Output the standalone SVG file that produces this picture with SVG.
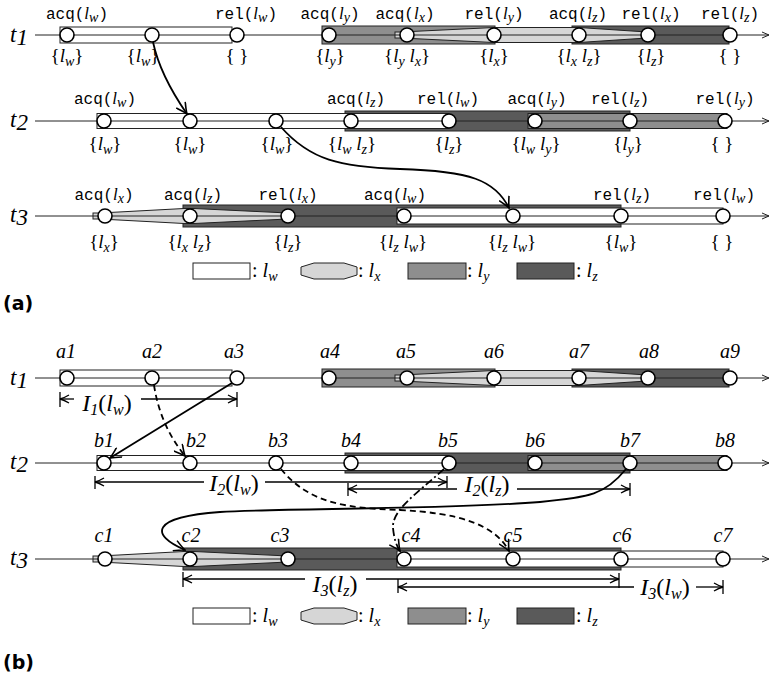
<svg xmlns="http://www.w3.org/2000/svg" width="771" height="682" viewBox="0 0 771 682">
<defs>
<style>
.tl{stroke:#222;stroke-width:1;fill:none}
.b{stroke:#222;stroke-width:1}
.w{fill:#fff}
.x{fill:#d6d6d6}
.y{fill:#8e8e8e}
.z{fill:#5a5a5a}
.c{fill:#fff;stroke:#000;stroke-width:1.6}
.m{font-family:"Liberation Mono",monospace;font-size:16px;font-style:normal}
.i{font-style:italic}
.op{text-anchor:middle;font-family:"Liberation Serif",serif;font-size:17px}
.st{text-anchor:middle;font-family:"Liberation Serif",serif;font-size:19px}
.s{font-size:14px;font-style:italic}
.nl{text-anchor:middle;font-family:"Liberation Serif",serif;font-style:italic;font-size:20px}
.tn{font-family:"Liberation Serif",serif;font-style:italic;font-size:23px}
.iv{text-anchor:middle;font-family:"Liberation Serif",serif;font-size:24px}
.ivs{font-size:16px;font-style:italic}
.cn{fill:none;stroke:#000;stroke-width:1.8}
.ds{stroke-dasharray:6 4}
.dd{stroke-dasharray:8 3 2 3}
.ia{fill:none;stroke:#000;stroke-width:1.3}
.hd{font-family:"DejaVu Sans",sans-serif;font-weight:bold;font-size:19px}
.lg{font-family:"Liberation Serif",serif;font-size:20px}
.lgs{font-size:14px;font-style:italic}
</style>
<marker id="ah" viewBox="-12 -6 13 12" refX="0" refY="0" markerWidth="13" markerHeight="12" markerUnits="userSpaceOnUse" orient="auto"><path d="M-11,-5.5 Q-4,-1.5 0,0 Q-4,1.5 -11,5.5" fill="none" stroke="#000" stroke-width="1.6"/></marker>
<marker id="ta" viewBox="-9 -5 10 10" refX="0" refY="0" markerWidth="10" markerHeight="10" markerUnits="userSpaceOnUse" orient="auto"><path d="M-7,-3 L0,0 L-7,3" fill="none" stroke="#222" stroke-width="1"/></marker>
<marker id="ia" viewBox="-11 -6 12 12" refX="0" refY="0" markerWidth="12" markerHeight="12" markerUnits="userSpaceOnUse" orient="auto-start-reverse"><path d="M-9,-4 Q-4,-1 0,0 Q-4,1 -9,4" fill="none" stroke="#000" stroke-width="1.3"/></marker>
</defs>
<rect width="771" height="682" fill="#fff"/>

<!-- ================= (a) ================= -->
<g id="a-lane1">
<rect class="b y" x="322" y="26" width="173" height="18"/>
<rect class="b z" x="572" y="26" width="157" height="18"/>
<rect class="b w" x="60" y="27" width="172" height="16"/>
<rect class="b x" x="395" y="32" width="7" height="6"/>
<polygon class="b x" points="401,32 494,27.5 579,27.5 647,32 647,38 579,42.5 494,42.5 401,38"/>
<line class="tl" x1="35" y1="35" x2="769" y2="35" marker-end="url(#ta)"/>
<text class="tn" x="10" y="42">t<tspan dy="3">1</tspan></text>
</g>
<g id="a-lane2">
<rect class="b z" x="345" y="111" width="285" height="20"/>
<rect class="b w" x="97" y="113.5" width="352" height="15"/>
<rect class="b y" x="528" y="113.5" width="199" height="15"/>
<line class="tl" x1="35" y1="121" x2="769" y2="121" marker-end="url(#ta)"/>
<text class="tn" x="10" y="127">t<tspan dy="3">2</tspan></text>
</g>
<g id="a-lane3">
<rect class="b z" x="183" y="205" width="438" height="22"/>
<rect class="b x" x="93" y="213" width="7" height="6"/>
<polygon class="b x" points="100,213 184,208.5 194,208.5 288,213 288,219 194,223.5 184,223.5 100,219"/>
<rect class="b w" x="397" y="208" width="326" height="16"/>
<line class="tl" x1="35" y1="216" x2="769" y2="216" marker-end="url(#ta)"/>
<text class="tn" x="10" y="222">t<tspan dy="3">3</tspan></text>
</g>

<g id="a-connectors">
<path class="cn" d="M153,42 Q160,75 187,114" marker-end="url(#ah)"/>
<path class="cn" d="M281,127 C310,160 340,167 400,169 C470,171 495,180 509,208" marker-end="url(#ah)"/>
</g>

<g id="a1n1"><circle class="c" cx="67" cy="35" r="7"/><text class="op" x="77" y="19"><tspan class="m">acq(</tspan><tspan class="i">l</tspan><tspan class="s" dy="3">w</tspan><tspan class="m" dy="-3">)</tspan></text><text class="st" x="67" y="62">{<tspan class="i">l</tspan><tspan class="s" dy="4">w</tspan><tspan dy="-4">}</tspan></text></g>
<g id="a1n2"><circle class="c" cx="152" cy="35" r="7"/><text class="st" x="143" y="62">{<tspan class="i">l</tspan><tspan class="s" dy="4">w</tspan><tspan dy="-4">}</tspan></text></g>
<g id="a1n3"><circle class="c" cx="237" cy="35" r="7"/><text class="op" x="246" y="19"><tspan class="m">rel(</tspan><tspan class="i">l</tspan><tspan class="s" dy="3">w</tspan><tspan class="m" dy="-3">)</tspan></text><text class="st" x="237" y="62">{ }</text></g>
<g id="a1n4"><circle class="c" cx="329" cy="35" r="7"/><text class="op" x="330" y="19"><tspan class="m">acq(</tspan><tspan class="i">l</tspan><tspan class="s" dy="3">y</tspan><tspan class="m" dy="-3">)</tspan></text><text class="st" x="330" y="62">{<tspan class="i">l</tspan><tspan class="s" dy="4">y</tspan><tspan dy="-4">}</tspan></text></g>
<g id="a1n5"><circle class="c" cx="407" cy="35" r="7"/><text class="op" x="405" y="19"><tspan class="m">acq(</tspan><tspan class="i">l</tspan><tspan class="s" dy="3">x</tspan><tspan class="m" dy="-3">)</tspan></text><text class="st" x="407" y="62">{<tspan class="i">l</tspan><tspan class="s" dy="4">y</tspan><tspan class="i" dy="-4"> l</tspan><tspan class="s" dy="4">x</tspan><tspan dy="-4">}</tspan></text></g>
<g id="a1n6"><circle class="c" cx="494" cy="35" r="7"/><text class="op" x="494" y="19"><tspan class="m">rel(</tspan><tspan class="i">l</tspan><tspan class="s" dy="3">y</tspan><tspan class="m" dy="-3">)</tspan></text><text class="st" x="494" y="62">{<tspan class="i">l</tspan><tspan class="s" dy="4">x</tspan><tspan dy="-4">}</tspan></text></g>
<g id="a1n7"><circle class="c" cx="579" cy="35" r="7"/><text class="op" x="578" y="19"><tspan class="m">acq(</tspan><tspan class="i">l</tspan><tspan class="s" dy="3">z</tspan><tspan class="m" dy="-3">)</tspan></text><text class="st" x="579" y="62">{<tspan class="i">l</tspan><tspan class="s" dy="4">x</tspan><tspan class="i" dy="-4"> l</tspan><tspan class="s" dy="4">z</tspan><tspan dy="-4">}</tspan></text></g>
<g id="a1n8"><circle class="c" cx="648" cy="35" r="7"/><text class="op" x="651" y="19"><tspan class="m">rel(</tspan><tspan class="i">l</tspan><tspan class="s" dy="3">x</tspan><tspan class="m" dy="-3">)</tspan></text><text class="st" x="651" y="62">{<tspan class="i">l</tspan><tspan class="s" dy="4">z</tspan><tspan dy="-4">}</tspan></text></g>
<g id="a1n9"><circle class="c" cx="730" cy="35" r="7"/><text class="op" x="730" y="19"><tspan class="m">rel(</tspan><tspan class="i">l</tspan><tspan class="s" dy="3">z</tspan><tspan class="m" dy="-3">)</tspan></text><text class="st" x="730" y="62">{ }</text></g>

<g id="a2n1"><circle class="c" cx="104" cy="121" r="7"/><text class="op" x="105" y="104"><tspan class="m">acq(</tspan><tspan class="i">l</tspan><tspan class="s" dy="3">w</tspan><tspan class="m" dy="-3">)</tspan></text><text class="st" x="105" y="150">{<tspan class="i">l</tspan><tspan class="s" dy="4">w</tspan><tspan dy="-4">}</tspan></text></g>
<g id="a2n2"><circle class="c" cx="190" cy="121" r="7"/><text class="st" x="190" y="150">{<tspan class="i">l</tspan><tspan class="s" dy="4">w</tspan><tspan dy="-4">}</tspan></text></g>
<g id="a2n3"><circle class="c" cx="276" cy="121" r="7"/><text class="st" x="277" y="150">{<tspan class="i">l</tspan><tspan class="s" dy="4">w</tspan><tspan dy="-4">}</tspan></text></g>
<g id="a2n4"><circle class="c" cx="351" cy="121" r="7"/><text class="op" x="356" y="104"><tspan class="m">acq(</tspan><tspan class="i">l</tspan><tspan class="s" dy="3">z</tspan><tspan class="m" dy="-3">)</tspan></text><text class="st" x="352" y="150">{<tspan class="i">l</tspan><tspan class="s" dy="4">w</tspan><tspan class="i" dy="-4"> l</tspan><tspan class="s" dy="4">z</tspan><tspan dy="-4">}</tspan></text></g>
<g id="a2n5"><circle class="c" cx="449" cy="121" r="7"/><text class="op" x="448" y="104"><tspan class="m">rel(</tspan><tspan class="i">l</tspan><tspan class="s" dy="3">w</tspan><tspan class="m" dy="-3">)</tspan></text><text class="st" x="449" y="150">{<tspan class="i">l</tspan><tspan class="s" dy="4">z</tspan><tspan dy="-4">}</tspan></text></g>
<g id="a2n6"><circle class="c" cx="535" cy="121" r="7"/><text class="op" x="537" y="104"><tspan class="m">acq(</tspan><tspan class="i">l</tspan><tspan class="s" dy="3">y</tspan><tspan class="m" dy="-3">)</tspan></text><text class="st" x="536" y="150">{<tspan class="i">l</tspan><tspan class="s" dy="4">w</tspan><tspan class="i" dy="-4"> l</tspan><tspan class="s" dy="4">y</tspan><tspan dy="-4">}</tspan></text></g>
<g id="a2n7"><circle class="c" cx="630" cy="121" r="7"/><text class="op" x="620" y="104"><tspan class="m">rel(</tspan><tspan class="i">l</tspan><tspan class="s" dy="3">z</tspan><tspan class="m" dy="-3">)</tspan></text><text class="st" x="628" y="150">{<tspan class="i">l</tspan><tspan class="s" dy="4">y</tspan><tspan dy="-4">}</tspan></text></g>
<g id="a2n8"><circle class="c" cx="725" cy="121" r="7"/><text class="op" x="725" y="104"><tspan class="m">rel(</tspan><tspan class="i">l</tspan><tspan class="s" dy="3">y</tspan><tspan class="m" dy="-3">)</tspan></text><text class="st" x="722" y="150">{ }</text></g>

<g id="a3n1"><circle class="c" cx="105" cy="216" r="7"/><text class="op" x="104" y="200"><tspan class="m">acq(</tspan><tspan class="i">l</tspan><tspan class="s" dy="3">x</tspan><tspan class="m" dy="-3">)</tspan></text><text class="st" x="104" y="248">{<tspan class="i">l</tspan><tspan class="s" dy="4">x</tspan><tspan dy="-4">}</tspan></text></g>
<g id="a3n2"><circle class="c" cx="190" cy="216" r="7"/><text class="op" x="193" y="200"><tspan class="m">acq(</tspan><tspan class="i">l</tspan><tspan class="s" dy="3">z</tspan><tspan class="m" dy="-3">)</tspan></text><text class="st" x="190" y="248">{<tspan class="i">l</tspan><tspan class="s" dy="4">x</tspan><tspan class="i" dy="-4"> l</tspan><tspan class="s" dy="4">z</tspan><tspan dy="-4">}</tspan></text></g>
<g id="a3n3"><circle class="c" cx="288" cy="216" r="7"/><text class="op" x="288" y="200"><tspan class="m">rel(</tspan><tspan class="i">l</tspan><tspan class="s" dy="3">x</tspan><tspan class="m" dy="-3">)</tspan></text><text class="st" x="288" y="248">{<tspan class="i">l</tspan><tspan class="s" dy="4">z</tspan><tspan dy="-4">}</tspan></text></g>
<g id="a3n4"><circle class="c" cx="404" cy="216" r="7"/><text class="op" x="395" y="200"><tspan class="m">acq(</tspan><tspan class="i">l</tspan><tspan class="s" dy="3">w</tspan><tspan class="m" dy="-3">)</tspan></text><text class="st" x="403" y="248">{<tspan class="i">l</tspan><tspan class="s" dy="4">z</tspan><tspan class="i" dy="-4"> l</tspan><tspan class="s" dy="4">w</tspan><tspan dy="-4">}</tspan></text></g>
<g id="a3n5"><circle class="c" cx="513" cy="216" r="7"/><text class="st" x="512" y="248">{<tspan class="i">l</tspan><tspan class="s" dy="4">z</tspan><tspan class="i" dy="-4"> l</tspan><tspan class="s" dy="4">w</tspan><tspan dy="-4">}</tspan></text></g>
<g id="a3n6"><circle class="c" cx="621" cy="216" r="7"/><text class="op" x="622" y="200"><tspan class="m">rel(</tspan><tspan class="i">l</tspan><tspan class="s" dy="3">z</tspan><tspan class="m" dy="-3">)</tspan></text><text class="st" x="621" y="248">{<tspan class="i">l</tspan><tspan class="s" dy="4">w</tspan><tspan dy="-4">}</tspan></text></g>
<g id="a3n7"><circle class="c" cx="723" cy="216" r="7"/><text class="op" x="724" y="200"><tspan class="m">rel(</tspan><tspan class="i">l</tspan><tspan class="s" dy="3">w</tspan><tspan class="m" dy="-3">)</tspan></text><text class="st" x="722" y="248">{ }</text></g>

<g id="a-legend">
<rect class="b w" x="193" y="263" width="57" height="16"/>
<text class="lg" x="252" y="277">: <tspan class="i">l</tspan><tspan class="lgs" dy="4">w</tspan></text>
<polygon class="b x" points="301,267 314,263 344,263 357,267 357,275 344,279 314,279 301,275"/>
<text class="lg" x="358" y="277">: <tspan class="i">l</tspan><tspan class="lgs" dy="4">x</tspan></text>
<rect class="b y" x="408" y="263" width="58" height="16"/>
<text class="lg" x="467" y="277">: <tspan class="i">l</tspan><tspan class="lgs" dy="4">y</tspan></text>
<rect class="b z" x="517" y="263" width="57" height="16"/>
<text class="lg" x="576" y="277">: <tspan class="i">l</tspan><tspan class="lgs" dy="4">z</tspan></text>
</g>
<text class="hd" x="3" y="310">(a)</text>

<!-- ================= (b) ================= -->
<g id="b-lane1">
<rect class="b y" x="322" y="369" width="173" height="18"/>
<rect class="b z" x="572" y="369" width="157" height="18"/>
<rect class="b w" x="60" y="370" width="172" height="16"/>
<rect class="b x" x="395" y="375" width="7" height="6"/>
<polygon class="b x" points="401,375 494,370.5 579,370.5 647,375 647,381 579,385.5 494,385.5 401,381"/>
<line class="tl" x1="35" y1="378" x2="769" y2="378" marker-end="url(#ta)"/>
<text class="tn" x="10" y="385">t<tspan dy="3">1</tspan></text>
</g>
<g id="b-lane2">
<rect class="b z" x="345" y="453" width="285" height="20"/>
<rect class="b w" x="97" y="455.5" width="352" height="15"/>
<rect class="b y" x="528" y="455.5" width="199" height="15"/>
<line class="tl" x1="35" y1="463" x2="769" y2="463" marker-end="url(#ta)"/>
<text class="tn" x="10" y="469">t<tspan dy="3">2</tspan></text>
</g>
<g id="b-lane3">
<rect class="b z" x="183" y="548" width="438" height="22"/>
<rect class="b x" x="93" y="556" width="7" height="6"/>
<polygon class="b x" points="100,556 184,551.5 194,551.5 288,556 288,562 194,566.5 184,566.5 100,562"/>
<rect class="b w" x="397" y="551" width="326" height="16"/>
<line class="tl" x1="35" y1="559" x2="769" y2="559" marker-end="url(#ta)"/>
<text class="tn" x="10" y="565">t<tspan dy="3">3</tspan></text>
</g>

<g id="b-intervals">
<line class="ia" x1="60" y1="392" x2="60" y2="407"/>
<path class="ia" d="M60,399 L74,399" marker-start="url(#ia)"/>
<path class="ia" d="M141,399 L237,399" marker-end="url(#ia)"/>
<line class="ia" x1="237" y1="392" x2="237" y2="407"/>
<text class="iv" x="107" y="411"><tspan class="i">I</tspan><tspan class="ivs" dy="4">1</tspan><tspan dy="-4">(</tspan><tspan class="i">l</tspan><tspan class="ivs" dy="4">w</tspan><tspan dy="-4">)</tspan></text>

<line class="ia" x1="95" y1="476" x2="95" y2="489"/>
<path class="ia" d="M95,482 L204,482" marker-start="url(#ia)"/>
<path class="ia" d="M265,482 L447,482" marker-end="url(#ia)"/>
<line class="ia" x1="447" y1="476" x2="447" y2="488"/>
<text class="iv" x="234" y="491"><tspan class="i">I</tspan><tspan class="ivs" dy="4">2</tspan><tspan dy="-4">(</tspan><tspan class="i">l</tspan><tspan class="ivs" dy="4">w</tspan><tspan dy="-4">)</tspan></text>

<line class="ia" x1="348" y1="483" x2="348" y2="496"/>
<path class="ia" d="M348,489 L457,489" marker-start="url(#ia)"/>
<path class="ia" d="M517,489 L630,489" marker-end="url(#ia)"/>
<line class="ia" x1="630" y1="483" x2="630" y2="496"/>
<text class="iv" x="487" y="492"><tspan class="i">I</tspan><tspan class="ivs" dy="4">2</tspan><tspan dy="-4">(</tspan><tspan class="i">l</tspan><tspan class="ivs" dy="4">z</tspan><tspan dy="-4">)</tspan></text>

<line class="ia" x1="183" y1="572" x2="183" y2="587"/>
<path class="ia" d="M183,579 L305,579" marker-start="url(#ia)"/>
<path class="ia" d="M366,579 L619,579" marker-end="url(#ia)"/>
<line class="ia" x1="619" y1="573" x2="619" y2="588"/>
<text class="iv" x="335" y="592"><tspan class="i">I</tspan><tspan class="ivs" dy="4">3</tspan><tspan dy="-4">(</tspan><tspan class="i">l</tspan><tspan class="ivs" dy="4">z</tspan><tspan dy="-4">)</tspan></text>

<line class="ia" x1="398" y1="579" x2="398" y2="593"/>
<path class="ia" d="M398,587 L634,587" marker-start="url(#ia)"/>
<path class="ia" d="M696,587 L723,587" marker-end="url(#ia)"/>
<line class="ia" x1="723" y1="580" x2="723" y2="594"/>
<text class="iv" x="665" y="595"><tspan class="i">I</tspan><tspan class="ivs" dy="4">3</tspan><tspan dy="-4">(</tspan><tspan class="i">l</tspan><tspan class="ivs" dy="4">w</tspan><tspan dy="-4">)</tspan></text>
</g>

<g id="b-connectors">
<path class="cn" d="M232,383 L110,458" marker-end="url(#ah)"/>
<path class="cn ds" d="M154,385 Q160,425 185,456" marker-end="url(#ah)"/>
<path class="cn ds" d="M281,469 C310,505 350,508 400,510 C460,513 495,525 509,551" marker-end="url(#ah)"/>
<path class="cn dd" d="M444,469 C415,495 392,510 393,528 C394,538 396,545 400,551" marker-end="url(#ah)"/>
<path class="cn" d="M626,469 C605,495 590,497 540,502 C440,510 280,508 220,512 C150,517 150,535 185,550" marker-end="url(#ah)"/>
</g>

<g id="b1n1"><circle class="c" cx="67" cy="378" r="7"/><text class="nl" x="66" y="358">a1</text></g>
<g id="b1n2"><circle class="c" cx="152" cy="378" r="7"/><text class="nl" x="152" y="358">a2</text></g>
<g id="b1n3"><circle class="c" cx="237" cy="378" r="7"/><text class="nl" x="234" y="358">a3</text></g>
<g id="b1n4"><circle class="c" cx="329" cy="378" r="7"/><text class="nl" x="330" y="358">a4</text></g>
<g id="b1n5"><circle class="c" cx="407" cy="378" r="7"/><text class="nl" x="406" y="358">a5</text></g>
<g id="b1n6"><circle class="c" cx="494" cy="378" r="7"/><text class="nl" x="494" y="358">a6</text></g>
<g id="b1n7"><circle class="c" cx="579" cy="378" r="7"/><text class="nl" x="579" y="358">a7</text></g>
<g id="b1n8"><circle class="c" cx="648" cy="378" r="7"/><text class="nl" x="649" y="358">a8</text></g>
<g id="b1n9"><circle class="c" cx="730" cy="378" r="7"/><text class="nl" x="730" y="358">a9</text></g>

<g id="b2n1"><circle class="c" cx="104" cy="463" r="7"/><text class="nl" x="104" y="447">b1</text></g>
<g id="b2n2"><circle class="c" cx="190" cy="463" r="7"/><text class="nl" x="196" y="447">b2</text></g>
<g id="b2n3"><circle class="c" cx="276" cy="463" r="7"/><text class="nl" x="278" y="447">b3</text></g>
<g id="b2n4"><circle class="c" cx="351" cy="463" r="7"/><text class="nl" x="351" y="447">b4</text></g>
<g id="b2n5"><circle class="c" cx="449" cy="463" r="7"/><text class="nl" x="448" y="447">b5</text></g>
<g id="b2n6"><circle class="c" cx="535" cy="463" r="7"/><text class="nl" x="535" y="447">b6</text></g>
<g id="b2n7"><circle class="c" cx="630" cy="463" r="7"/><text class="nl" x="630" y="447">b7</text></g>
<g id="b2n8"><circle class="c" cx="725" cy="463" r="7"/><text class="nl" x="725" y="447">b8</text></g>

<g id="b3n1"><circle class="c" cx="105" cy="559" r="7"/><text class="nl" x="104" y="542">c1</text></g>
<g id="b3n2"><circle class="c" cx="190" cy="559" r="7"/><text class="nl" x="191" y="542">c2</text></g>
<g id="b3n3"><circle class="c" cx="288" cy="559" r="7"/><text class="nl" x="280" y="542">c3</text></g>
<g id="b3n4"><circle class="c" cx="404" cy="559" r="7"/><text class="nl" x="411" y="542">c4</text></g>
<g id="b3n5"><circle class="c" cx="513" cy="559" r="7"/><text class="nl" x="513" y="542">c5</text></g>
<g id="b3n6"><circle class="c" cx="621" cy="559" r="7"/><text class="nl" x="622" y="542">c6</text></g>
<g id="b3n7"><circle class="c" cx="723" cy="559" r="7"/><text class="nl" x="723" y="542">c7</text></g>

<g id="b-legend">
<rect class="b w" x="193" y="608" width="57" height="16"/>
<text class="lg" x="252" y="622">: <tspan class="i">l</tspan><tspan class="lgs" dy="4">w</tspan></text>
<polygon class="b x" points="301,612 314,608 344,608 357,612 357,620 344,624 314,624 301,620"/>
<text class="lg" x="358" y="622">: <tspan class="i">l</tspan><tspan class="lgs" dy="4">x</tspan></text>
<rect class="b y" x="408" y="608" width="58" height="16"/>
<text class="lg" x="467" y="622">: <tspan class="i">l</tspan><tspan class="lgs" dy="4">y</tspan></text>
<rect class="b z" x="517" y="608" width="57" height="16"/>
<text class="lg" x="576" y="622">: <tspan class="i">l</tspan><tspan class="lgs" dy="4">z</tspan></text>
</g>
<text class="hd" x="3" y="669">(b)</text>
</svg>
